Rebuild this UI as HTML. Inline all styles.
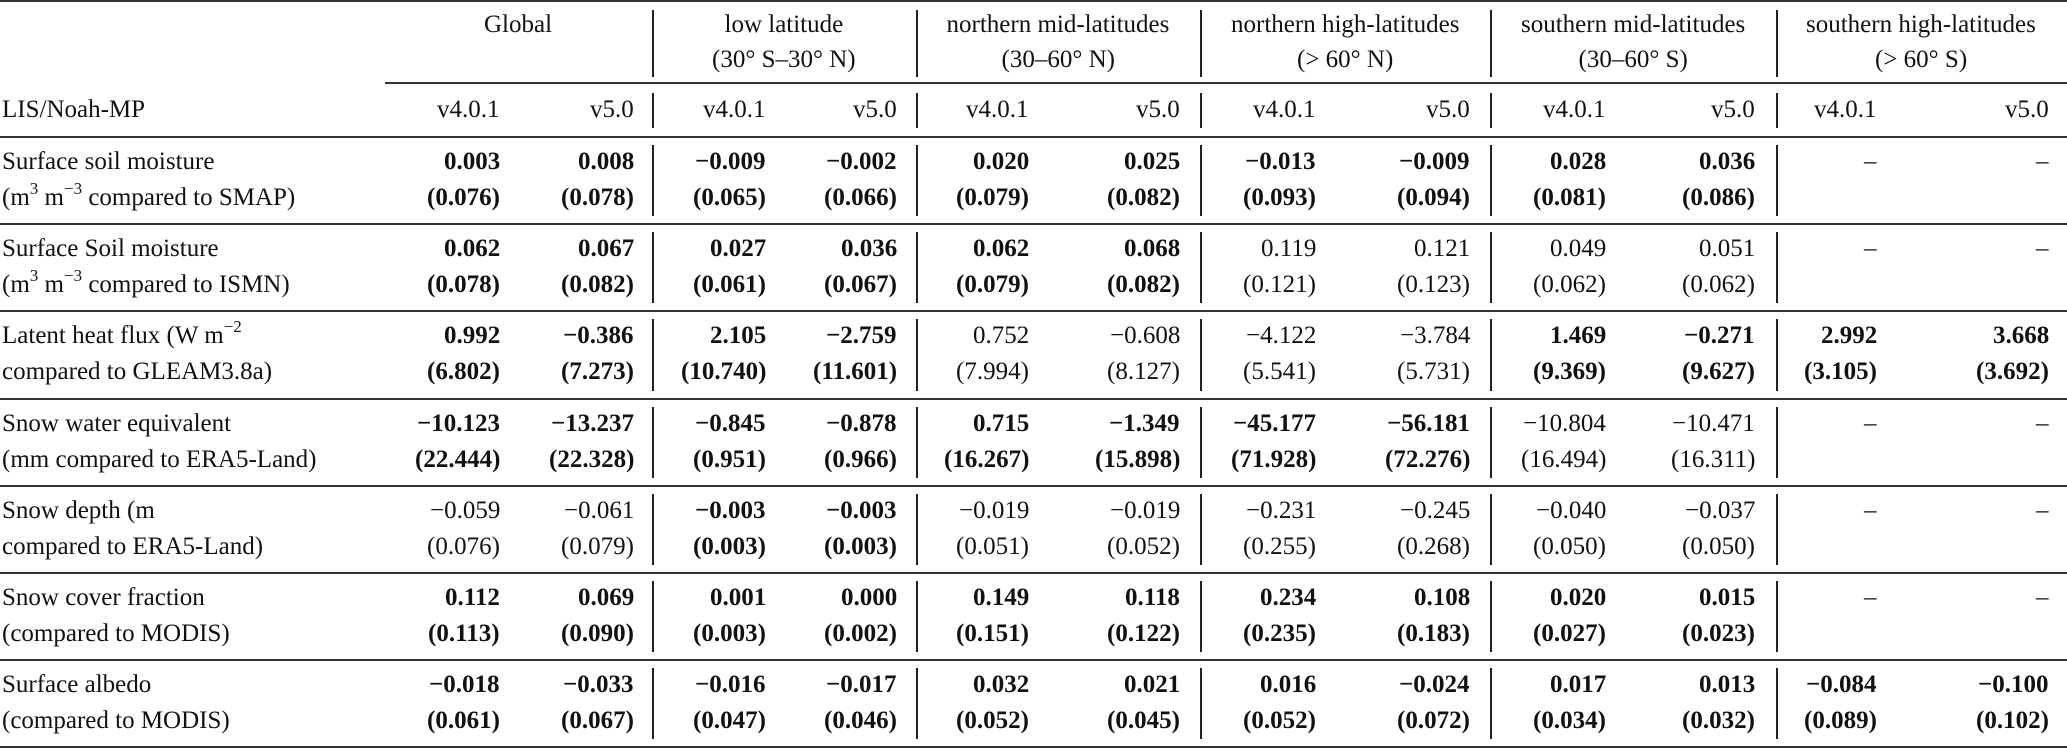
<!DOCTYPE html>
<html><head><meta charset="utf-8">
<style>
html,body{margin:0;padding:0;background:#fff;}
#t{position:relative;width:2067px;height:748px;overflow:hidden;font-family:"Liberation Serif",serif;font-size:25px;color:#111;}
.tx{position:absolute;white-space:nowrap;line-height:30px;height:30px;}
.r{position:absolute;left:0;width:2067px;background:#333;}
.v{position:absolute;width:1.5px;background:#222;}
sup{font-size:17px;line-height:0;position:relative;top:-2px;vertical-align:super;}
b{font-weight:bold;}
</style></head><body>
<div id="t"></div>
<script>
const groups = ["Global","low latitude|(30° S–30° N)","northern mid-latitudes|(30–60° N)","northern high-latitudes|(> 60° N)","southern mid-latitudes|(30–60° S)","southern high-latitudes|(> 60° S)"];
const versions = ["v4.0.1","v5.0"];
const rowLabels = [
 ["Surface soil moisture","(m<sup>3</sup> m<sup>−3</sup> compared to SMAP)"],
 ["Surface Soil moisture","(m<sup>3</sup> m<sup>−3</sup> compared to ISMN)"],
 ["Latent heat flux (W m<sup>−2</sup>","compared to GLEAM3.8a)"],
 ["Snow water equivalent","(mm compared to ERA5-Land)"],
 ["Snow depth (m","compared to ERA5-Land)"],
 ["Snow cover fraction","(compared to MODIS)"],
 ["Surface albedo","(compared to MODIS)"]
];
const bias = [
 ["0.003","0.008","−0.009","−0.002","0.020","0.025","−0.013","−0.009","0.028","0.036","–","–"],
 ["0.062","0.067","0.027","0.036","0.062","0.068","0.119","0.121","0.049","0.051","–","–"],
 ["0.992","−0.386","2.105","−2.759","0.752","−0.608","−4.122","−3.784","1.469","−0.271","2.992","3.668"],
 ["−10.123","−13.237","−0.845","−0.878","0.715","−1.349","−45.177","−56.181","−10.804","−10.471","–","–"],
 ["−0.059","−0.061","−0.003","−0.003","−0.019","−0.019","−0.231","−0.245","−0.040","−0.037","–","–"],
 ["0.112","0.069","0.001","0.000","0.149","0.118","0.234","0.108","0.020","0.015","–","–"],
 ["−0.018","−0.033","−0.016","−0.017","0.032","0.021","0.016","−0.024","0.017","0.013","−0.084","−0.100"]
];
const rmse = [
 ["0.076","0.078","0.065","0.066","0.079","0.082","0.093","0.094","0.081","0.086","",""],
 ["0.078","0.082","0.061","0.067","0.079","0.082","0.121","0.123","0.062","0.062","",""],
 ["6.802","7.273","10.740","11.601","7.994","8.127","5.541","5.731","9.369","9.627","3.105","3.692"],
 ["22.444","22.328","0.951","0.966","16.267","15.898","71.928","72.276","16.494","16.311","",""],
 ["0.076","0.079","0.003","0.003","0.051","0.052","0.255","0.268","0.050","0.050","",""],
 ["0.113","0.090","0.003","0.002","0.151","0.122","0.235","0.183","0.027","0.023","",""],
 ["0.061","0.067","0.047","0.046","0.052","0.045","0.052","0.072","0.034","0.032","0.089","0.102"]
];
const boldRegions = [
 [1,1,1,1,1,0],[1,1,1,0,0,0],[1,1,0,0,1,1],[1,1,1,1,0,0],[0,1,0,0,0,0],[1,1,1,1,1,0],[1,1,1,1,1,1]
];
const colRight=[500,634,766,897,1029,1180,1316,1470,1606,1755,1877,2049];
const seps=[652,916,1200,1490,1776];
const groupCenter=[518,784,1058,1345,1633,1921];
const T=document.getElementById('t');
function txt(html,x,y,align,name,bold){
 const d=document.createElement('div');
 d.className='tx';
 d.innerHTML=bold?'<b>'+html+'</b>':html;
 
 
 T.appendChild(d);
 const w=d.offsetWidth;
 let l=x; if(align==='r') l=x-w; else if(align==='c') l=x-w/2;
 d.style.left=l+'px'; d.style.top=(y-15)+'px';
}
function rule(y,h,name,x0){
 const d=document.createElement('div');
 d.className='r';
 
 
 d.style.top=y+'px'; d.style.height=h+'px';
 if(x0){d.style.left=x0+'px';d.style.width=(2067-x0)+'px';}
 T.appendChild(d);
}
function vline(x,y0,y1){
 const d=document.createElement('div');
 d.className='v';
 
 
 d.style.left=x+'px'; d.style.top=y0+'px'; d.style.height=(y1-y0)+'px';
 T.appendChild(d);
}
rule(0,2,'top-rule');
rule(82,2,'group-rule',385);
rule(136,2,'header-rule');
groups.forEach((g,i)=>{
 const p=g.split('|');
 txt(p[0],groupCenter[i],25,'c','group-title');
 if(p[1]) txt(p[1],groupCenter[i],60,'c','group-subtitle');
});
seps.forEach(x=>{vline(x,10,77);vline(x,93,128);});
txt('LIS/Noah-MP',2,110,'l','header-label');
colRight.forEach((x,i)=>txt(versions[i%2],x,110,'r','version-header'));
const pitch=87.2;
rowLabels.forEach((lab,r)=>{
 const top=137+r*pitch;
 txt(lab[0],2,top+25,'l','row-label');
 txt(lab[1],2,top+61,'l','row-label-sub');
 colRight.forEach((x,c)=>{
  const b=boldRegions[r][Math.floor(c/2)]===1;
  const bv=bias[r][c];
  txt(bv,x,top+25,'r','bias-value',b && bv!=='–');
  if(rmse[r][c]) txt('('+rmse[r][c]+')',x,top+61,'r','rmse-value',b);
 });
 seps.forEach(x=>vline(x,top+8,top+pitch-8));
 rule(Math.round(top+pitch)-1,r===6?3:2,r===6?'bottom-rule':'row-rule');
});
</script>
</body></html>
